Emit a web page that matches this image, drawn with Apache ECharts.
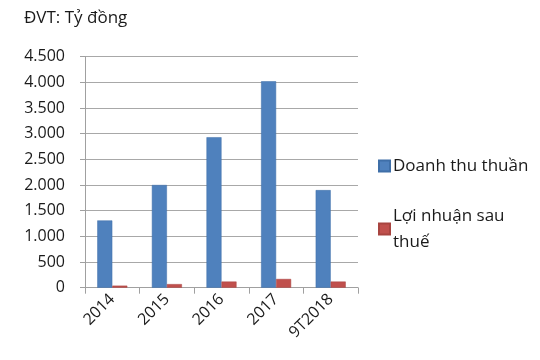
<!DOCTYPE html>
<html><head><meta charset="utf-8">
<script src="https://cdn.jsdelivr.net/npm/echarts@6/dist/echarts.min.js"></script>
<style>html,body{margin:0;padding:0;background:#fff}#c{width:540px;height:360px}</style>
</head><body><div id="c"></div>
<script>
const categories = ['2014','2015','2016','2017','9T2018'];
const revenue = [1310, 2000, 2930, 4020, 1900];
const profit = [40, 70, 120, 170, 120];
const seriesNames = ['Doanh thu thuần','Lợi nhuận sau thuế'];
const unitLabel = 'ĐVT: Tỷ đồng';

const font = 'Open Sans';
const chart = echarts.init(document.getElementById('c'));
chart.setOption({
  animation:false,
  title:{text:unitLabel,left:24,top:10,padding:0,textStyle:{fontFamily:font,fontSize:17,fontWeight:'normal',color:'#1a1a1a'}},
  grid:{left:85,right:182,top:56.6,bottom:72.3},
  legend:{orient:'vertical',left:378,top:153,padding:0,itemWidth:11,itemHeight:11,itemGap:24,icon:'rect',
    textStyle:{fontFamily:font,fontSize:17,color:'#1a1a1a',lineHeight:26,padding:[0,0,0,-2]},
    formatter:n=>n==='Lợi nhuận sau thuế'?'Lợi nhuận sau\nthuế':n,
    data:seriesNames},
  xAxis:{type:'category',data:categories,
    axisLine:{lineStyle:{color:'#a0a0a0'}},
    axisTick:{show:true,length:6,lineStyle:{color:'#a0a0a0'}},
    axisLabel:{rotate:45,fontFamily:font,fontSize:16,color:'#1a1a1a',margin:9}},
  yAxis:{type:'value',min:0,max:4500,interval:500,
    axisLine:{show:true,lineStyle:{color:'#a0a0a0'}},
    axisTick:{show:true,length:5,lineStyle:{color:'#a0a0a0'}},
    splitLine:{lineStyle:{color:'#a8a8a8'}},
    axisLabel:{fontFamily:font,fontSize:16,color:'#1a1a1a',margin:20,formatter:v=>v.toLocaleString('de-DE')}},
  series:[
    {name:seriesNames[0],type:'bar',data:revenue,barGap:'0%',barCategoryGap:'45%',
      itemStyle:{color:'#4F81BD',borderColor:'#3f6fa8',borderWidth:0.5}},
    {name:seriesNames[1],type:'bar',data:profit,
      itemStyle:{color:'#C0504D',borderColor:'#a84440',borderWidth:0.5}}
  ]
});
</script></body></html>
